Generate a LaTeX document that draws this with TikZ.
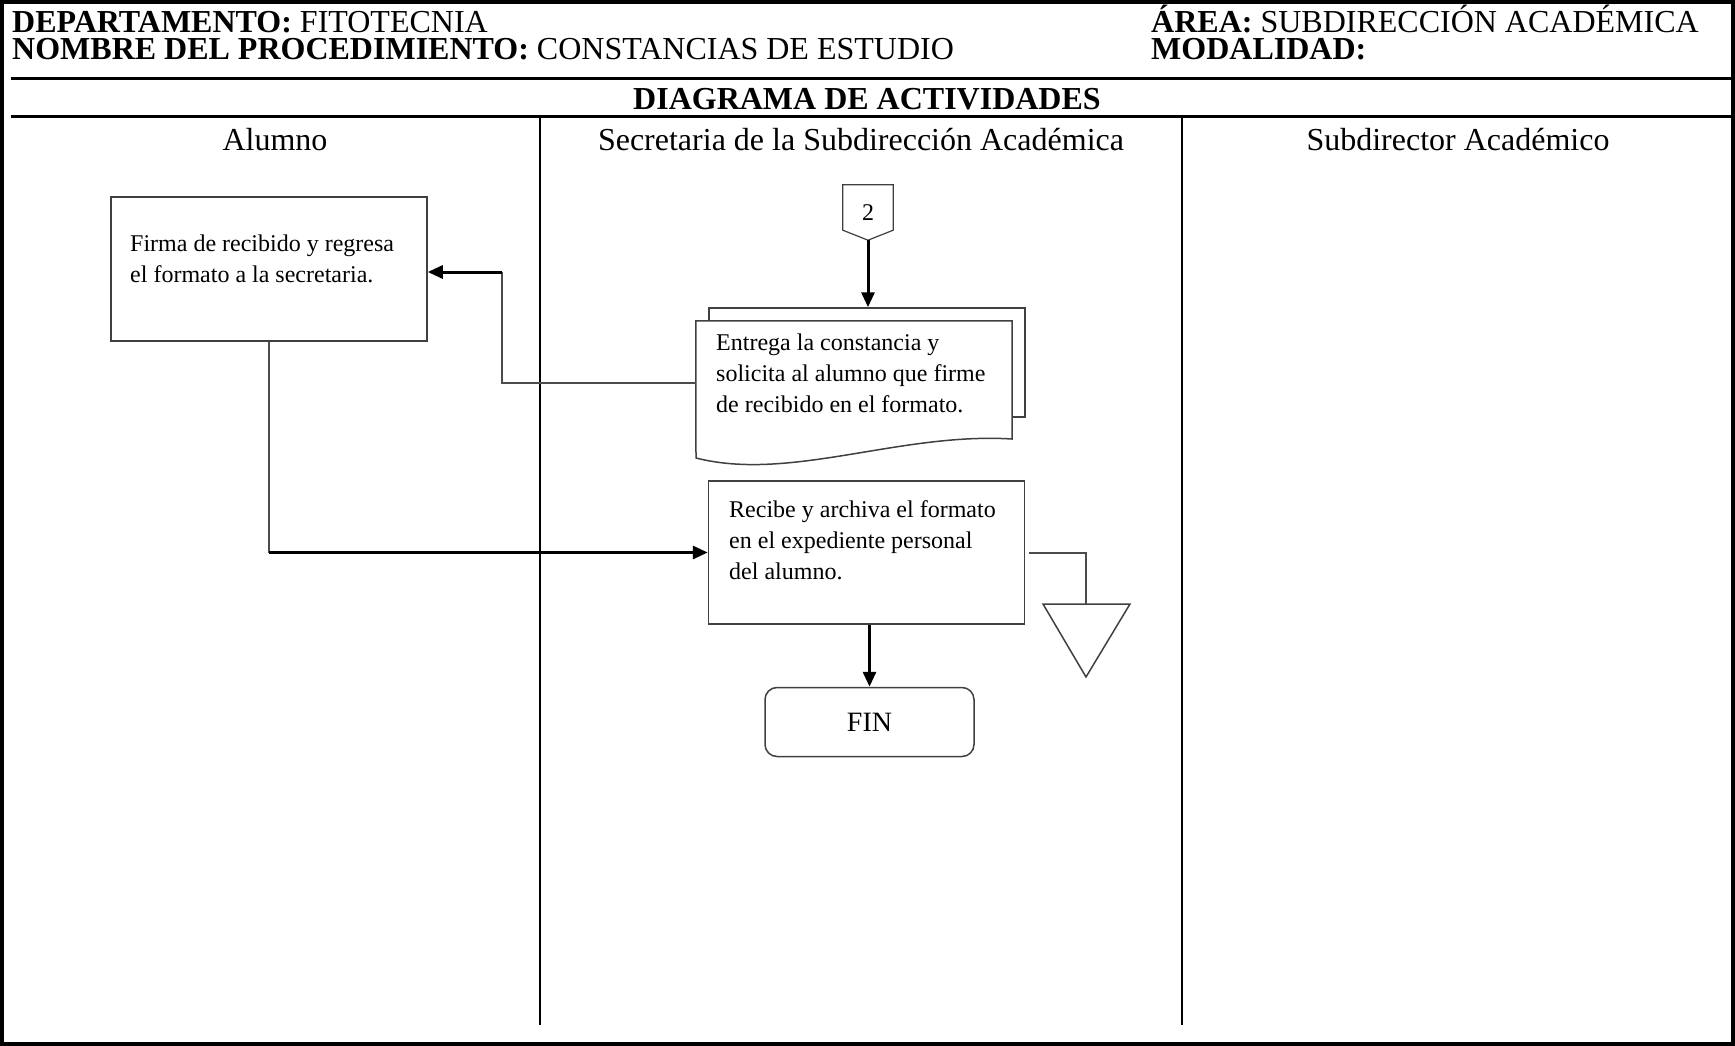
\documentclass[tikz,border=0pt]{standalone}
\usepackage{fontspec}
\setmainfont{Liberation Serif}
\usepackage{tikz}
\usetikzlibrary{arrows.meta, positioning}

\begin{document}
\begin{tikzpicture}[x=1pt, y=-1pt,
        box/.style={rectangle, draw=black!75, line width=1.5pt, minimum width=316pt, inner sep=0pt},
        txt/.style={anchor=north west, align=left, inner sep=0pt, font=\fontsize{24}{31}\selectfont},
        head/.style={anchor=base, inner sep=0pt, font=\fontsize{32}{36}\selectfont},
        line/.style={draw=black!70, line width=2pt},
        arrow/.style={line width=3pt, -{Triangle[length=15pt, width=13pt]}}
    ]
        \useasboundingbox (0,0) rectangle (1735,1046);
        \draw[line width=4pt] (2,2) rectangle (1733,1044);
        \draw[line width=3pt] (11,79) -- (1732,79);
        \draw[line width=3pt] (11,117) -- (1732,117);
        \draw[line width=2.5pt] (540,117) -- (540,1025);
        \draw[line width=2.5pt] (1182,117) -- (1182,1025);

        \node[head, anchor=base west, align=left, font=\fontsize{32}{27}\selectfont] (depto) at (12,60) {\textbf{DEPARTAMENTO:} FITOTECNIA\\\textbf{NOMBRE DEL PROCEDIMIENTO:} CONSTANCIAS DE ESTUDIO};
        \node[head, anchor=base west, align=left, font=\fontsize{32}{27}\selectfont] (area) at (1151,60) {\textbf{ÁREA:} SUBDIRECCIÓN ACADÉMICA\\\textbf{MODALIDAD:}};
        \node[head] (diagrama) at (867,110) {\textbf{DIAGRAMA DE ACTIVIDADES}};
        \node[head] (alumno) at (275,150) {Alumno};
        \node[head] (secretaria) at (861,150) {Secretaria de la Subdirección Académica};
        \node[head] (subdirector) at (1458,150) {Subdirector Académico};

        \node[box, minimum height=144pt] (firma) at (269,269) {};
        \node[txt] (firma-txt) at (130,235) {Firma de recibido y regresa\\el formato a la secretaria.};

        \node[minimum width=50pt, minimum height=55pt, inner sep=0pt, font=\fontsize{24}{28}\selectfont] (dos) at (868,212.5) {2};
        \draw[draw=black!75, line width=1.2pt] (dos.north west) -- (dos.north east) -- ([yshift=10pt]dos.south east) -- (dos.south) -- ([yshift=10pt]dos.south west) -- cycle;

        \node[box, minimum height=109pt] (hoja) at (867,362.5) {};
        \node[minimum width=316pt, minimum height=124pt, inner sep=0pt] (entrega) at (854,383) {};
        \draw[draw=black!75, line width=1.5pt, fill=white] (entrega.north west) -- (entrega.north east) -- (1012,439) .. controls (900,432) and (790,482) .. (696,458) -- cycle;
        \node[txt] (entrega-txt) at (716,334) {Entrega la constancia y\\solicita al alumno que firme\\de recibido en el formato.};

        \node[box, minimum height=143pt] (recibe) at (866.5,552.5) {};
        \node[txt] (recibe-txt) at (729,500.5) {Recibe y archiva el formato\\en el expediente personal\\del alumno.};

        \node[draw=black!75, line width=1.5pt, rounded corners=12pt, minimum width=209pt, minimum height=69pt, font=\fontsize{28}{32}\selectfont] (fin) at (869.5,722) {FIN};

        \coordinate (archivo) at (1086,604);
        \draw[draw=black!75, line width=1.5pt] (1043,604) -- (1130,604) -- (1086,677) -- cycle;

        \draw[arrow] (dos.south) -- (dos.south |- hoja.north);
        \coordinate (codo1) at (502,272);
        \draw[line] (entrega.west) -| (codo1);
        \draw[arrow] (codo1) -- (firma.east |- codo1);
        \coordinate (codo2) at (firma.south |- recibe.west);
        \draw[line] (firma.south) -- (codo2);
        \draw[arrow] (codo2) -- (recibe.west);
        \draw[arrow] (fin.north |- recibe.south) -- (fin.north);
        \draw[line] ([xshift=4pt]recibe.east) -| (archivo);
    \end{tikzpicture}
\end{document}
